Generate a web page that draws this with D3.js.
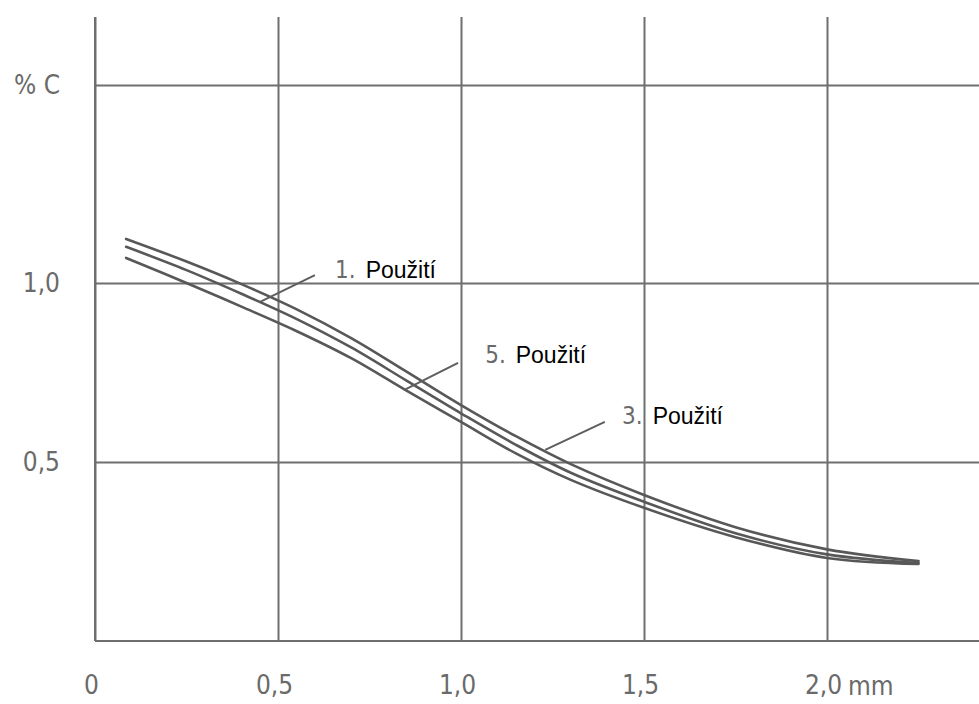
<!DOCTYPE html>
<html>
<head>
<meta charset="utf-8">
<script src="https://cdn.jsdelivr.net/npm/d3@7"></script>
<style>
  html, body { margin: 0; padding: 0; background: #fff; }
  svg { display: block; }
</style>
</head>
<body>
<svg id="chart" width="979" height="704"></svg>
<script>
// ---- data ----
const depthMm = [0.085, 0.25, 0.4, 0.55, 0.7, 0.85, 1.0, 1.15, 1.3, 1.5, 1.75, 2.0, 2.25];
const use3 = [1.123, 1.060, 0.997, 0.927, 0.846, 0.753, 0.659, 0.572, 0.494, 0.408, 0.318, 0.256, 0.223];
const use1 = [1.101, 1.036, 0.970, 0.900, 0.820, 0.728, 0.636, 0.548, 0.470, 0.389, 0.301, 0.242, 0.218];
const use5 = [1.070, 1.000, 0.934, 0.866, 0.790, 0.700, 0.612, 0.524, 0.450, 0.372, 0.290, 0.232, 0.215];

const xTickValues = [0, 0.5, 1.0, 1.5, 2.0];
const xTickLabels = ["0", "0,5", "1,0", "1,5", "2,0"];
const xUnit = "mm";
const yTickValues = [0.5, 1.0, 1.553];
const yTickLabels = ["0,5", "1,0", "% C"];

// annotation: number, word, text anchor (x,y data units), leader from -> to (data units)
const labelNums = ["1.", "5.", "3."];
const labelWord = "Použití";
const labelAnchorX = [0.656, 1.066, 1.44];
const labelAnchorY = [1.014, 0.777, 0.606];
const leaderFromX = [0.601, 0.992, 1.393];
const leaderFromY = [1.022, 0.777, 0.612];
const leaderToX = [0.451, 0.844, 1.230];
const leaderToY = [0.947, 0.701, 0.534];

// ---- drawing ----
const W = 979, H = 704;
const svg = d3.select("#chart");
const x = d3.scaleLinear().domain([0, 2.0]).range([95, 827]);
const y = d3.scaleLinear().domain([0, 1.743]).range([641, 17]);

const gridColor = "#6f6f6f";
const textColor = "#6a6a6a";
const numFont = "'DejaVu Sans Condensed', 'DejaVu Sans', sans-serif";

// x axis with vertical gridlines
const xAxis = d3.axisBottom(x)
  .tickValues(xTickValues)
  .tickFormat((d, i) => xTickLabels[i])
  .tickSizeInner(-(y(0) - y.range()[1]))
  .tickSizeOuter(0)
  .tickPadding(35);
const gx = svg.append("g").attr("transform", `translate(0,${y(0)})`).call(xAxis);
gx.select(".domain").remove();
gx.selectAll(".tick line").attr("stroke", gridColor).attr("stroke-width", 2);
gx.selectAll(".tick text")
  .attr("font-family", numFont)
  .attr("font-stretch", "condensed")
  .attr("font-size", 26)
  .attr("fill", textColor)
  .attr("dx", -4);

// unit after last label
svg.append("text")
  .attr("x", x(2.0) + 21)
  .attr("y", 695)
  .attr("font-family", numFont)
  .attr("font-stretch", "condensed")
  .attr("font-size", 26)
  .attr("fill", textColor)
  .text(xUnit);

// y axis with horizontal gridlines
const yAxis = d3.axisLeft(y)
  .tickValues(yTickValues)
  .tickFormat((d, i) => yTickLabels[i])
  .tickSizeInner(-(W - x(0)))
  .tickSizeOuter(0)
  .tickPadding(35);
const gy = svg.append("g").attr("transform", `translate(${x(0)},0)`).call(yAxis);
gy.select(".domain").remove();
gy.selectAll(".tick line").attr("stroke", gridColor).attr("stroke-width", 2);
gy.selectAll(".tick text")
  .attr("font-family", numFont)
  .attr("font-stretch", "condensed")
  .attr("font-size", 26)
  .attr("fill", textColor);

// axis lines
svg.append("line")
  .attr("x1", x(0)).attr("x2", x(0))
  .attr("y1", y.range()[1]).attr("y2", y(0))
  .attr("stroke", gridColor).attr("stroke-width", 2);
svg.append("line")
  .attr("x1", x(0)).attr("x2", W)
  .attr("y1", y(0)).attr("y2", y(0))
  .attr("stroke", gridColor).attr("stroke-width", 2);

// curves
const line = d3.line()
  .x((d, i) => x(depthMm[i]))
  .y(d => y(d))
  .curve(d3.curveCatmullRom.alpha(0.5));
[use3, use1, use5].forEach(s => {
  svg.append("path")
    .datum(s)
    .attr("d", line)
    .attr("fill", "none")
    .attr("stroke", "#585858")
    .attr("stroke-width", 2.6)
    .attr("stroke-linecap", "round");
});

// leader lines and labels
labelNums.forEach((n, i) => {
  svg.append("line")
    .attr("x1", x(leaderFromX[i])).attr("y1", y(leaderFromY[i]))
    .attr("x2", x(leaderToX[i])).attr("y2", y(leaderToY[i]))
    .attr("stroke", "#5e5e5e").attr("stroke-width", 2);
  const t = svg.append("text")
    .attr("x", x(labelAnchorX[i]))
    .attr("y", y(labelAnchorY[i]));
  t.append("tspan")
    .attr("font-family", numFont)
    .attr("font-stretch", "condensed")
    .attr("font-size", 24)
    .attr("fill", textColor)
    .text(n);
  t.append("tspan")
    .attr("dx", 10)
    .attr("font-family", "'Liberation Sans', Arial, sans-serif")
    .attr("font-size", 23)
    .attr("fill", "#000")
    .text(labelWord);
});
</script>
</body>
</html>
